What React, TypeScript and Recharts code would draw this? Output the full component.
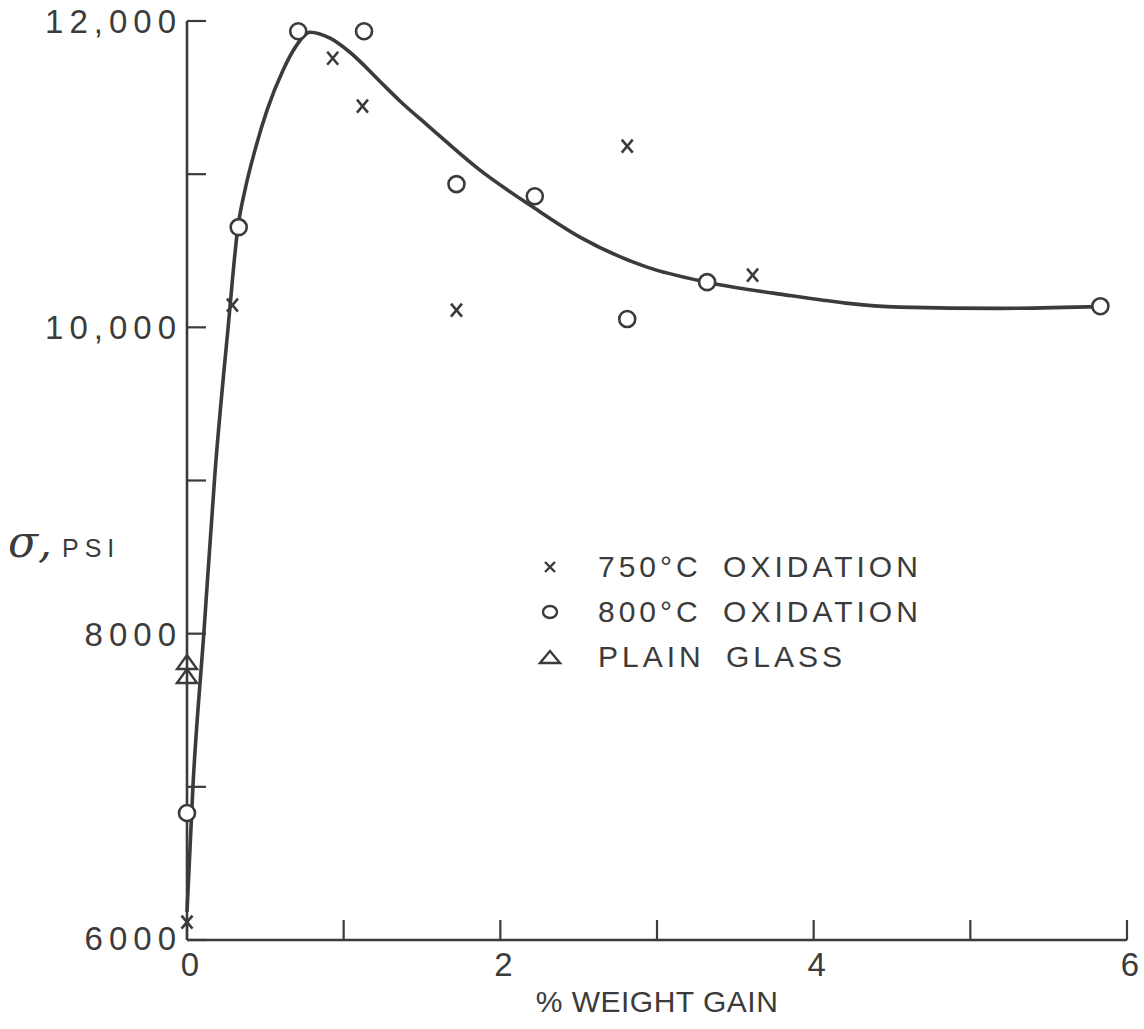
import { ComposedChart, Line, Scatter, XAxis, YAxis, Legend } from "recharts";

// fitted curve
const curveX = [0, 0.038, 0.108, 0.179, 0.262, 0.325, 0.37, 0.434, 0.511, 0.613, 0.696, 0.785, 0.913, 1.04, 1.232, 1.359, 1.532, 1.87, 2.208, 2.508, 2.936, 3.319, 3.784, 4.55, 5.19, 5.83];
const curveY = [6183, 7005, 8010, 9055, 9995, 10654, 10896, 11157, 11418, 11679, 11836, 11927, 11888, 11796, 11605, 11478, 11322, 11026, 10785, 10589, 10393, 10295, 10217, 10132, 10124, 10135];

// 750 C oxidation (x marks)
const ox750X = [0, 0.29, 0.93, 1.12, 1.72, 2.81, 3.61];
const ox750Y = [6117, 10145, 11757, 11444, 10112, 11183, 10341];

// 800 C oxidation (circles)
const ox800X = [0, 0.33, 0.71, 1.13, 1.72, 2.22, 2.81, 3.32, 5.83];
const ox800Y = [6829, 10654, 11933, 11933, 10935, 10856, 10054, 10295, 10138];

// plain glass (triangles)
const glassX = [0, 0];
const glassY = [7808, 7717];

const xTicks = [0, 1, 2, 3, 4, 5, 6];
const xTickLabels: Record<number, string> = { 0: "0", 2: "2", 4: "4", 6: "6" };
const yTicks = [6000, 7000, 8000, 9000, 10000, 11000, 12000];
const yTickLabels: Record<number, string> = { 6000: "6000", 8000: "8000", 10000: "10,000", 12000: "12,000" };

const zip = (xs: number[], ys: number[]) => xs.map((x, i) => ({ x, y: ys[i] }));

const curve = zip(curveX, curveY);
const ox750 = zip(ox750X, ox750Y);
const ox800 = zip(ox800X, ox800Y);
const glass = zip(glassX, glassY);

const INK = "#3b3b3b";
const FONT = "'Liberation Sans', Arial, sans-serif";

const Cross = ({ cx, cy }: any) => (
  <g stroke={INK} strokeWidth={2.6}>
    <line x1={cx - 5.5} y1={cy - 6.5} x2={cx + 5.5} y2={cy + 6.5} />
    <line x1={cx + 5.5} y1={cy - 6.5} x2={cx - 5.5} y2={cy + 6.5} />
  </g>
);

const Ring = ({ cx, cy }: any) => (
  <circle cx={cx} cy={cy} r={8} fill="#fff" stroke={INK} strokeWidth={2.6} />
);

const Tri = ({ cx, cy }: any) => (
  <path d={`M${cx - 10},${cy + 6} L${cx},${cy - 8} L${cx + 10},${cy + 6} Z`} fill="none" stroke={INK} strokeWidth={2.4} />
);

const XTick = ({ x, y, payload }: any) => (
  <g>
    <line x1={x} y1={y} x2={x} y2={y - 20} stroke={INK} strokeWidth={2.2} />
    {xTickLabels[payload.value] && (
      <text x={x + 3} y={y + 36} textAnchor="middle" fontSize={33} fontFamily={FONT} fill={INK}>
        {xTickLabels[payload.value]}
      </text>
    )}
  </g>
);

const YTick = ({ x, y, payload }: any) => (
  <g>
    <line x1={x} y1={y} x2={x + 19} y2={y} stroke={INK} strokeWidth={2.2} />
    {yTickLabels[payload.value] && (
      <text x={x - 5} y={payload.value === 6000 ? y - 2 : y} dy="0.36em" textAnchor="end" fontSize={33} fontFamily={FONT} fill={INK} style={{ letterSpacing: 6 }}>
        {yTickLabels[payload.value]}
      </text>
    )}
  </g>
);

const legendRows = [
  { name: "750°C OXIDATION", mark: "x" },
  { name: "800°C OXIDATION", mark: "o" },
  { name: "PLAIN GLASS", mark: "t" },
];

const LegendBox = () => (
  <svg width={440} height={140}>
    {legendRows.map((r, i) => {
      const cy = 23 + i * 45;
      return (
        <g key={r.name}>
          {r.mark === "x" && (
            <g stroke={INK} strokeWidth={2.4}>
              <line x1={9} y1={cy - 4} x2={19} y2={cy + 6} />
              <line x1={19} y1={cy - 4} x2={9} y2={cy + 6} />
            </g>
          )}
          {r.mark === "o" && <ellipse cx={14} cy={cy + 1} rx={7} ry={6} fill="none" stroke={INK} strokeWidth={2.4} />}
          {r.mark === "t" && (
            <path d={`M4,${cy + 7} L14,${cy - 5} L24,${cy + 7} Z`} fill="none" stroke={INK} strokeWidth={2.4} />
          )}
          <text x={62} y={cy + 11} fontSize={30} fontFamily={FONT} fill={INK} style={{ letterSpacing: 4, wordSpacing: 9 }}>
            {r.name}
          </text>
        </g>
      );
    })}
  </svg>
);

const YLabel = () => (
  <g fill={INK} fontFamily={FONT}>
    <text x={8} y={557} fontSize={44} fontStyle="italic" fontFamily="'DejaVu Serif', serif">σ,</text>
    <text x={62} y={557} fontSize={25} style={{ letterSpacing: 6 }}>PSI</text>
  </g>
);

const XLabel = () => (
  <text x={657} y={1012} textAnchor="middle" fontSize={30} fontFamily={FONT} fill={INK} style={{ letterSpacing: 0.5 }}>
    % WEIGHT GAIN
  </text>
);

export default function App() {
  return (
    <div style={{ position: "absolute", left: 0, top: 0, background: "#fff" }}>
      <ComposedChart width={1144} height={1029} margin={{ top: 21, right: 17, bottom: 59, left: 127 }}>
        <XAxis
          type="number"
          dataKey="x"
          domain={[0, 6]}
          ticks={xTicks}
          height={30}
          tickSize={0}
          tickMargin={0}
          tick={<XTick />}
          axisLine={{ stroke: INK, strokeWidth: 2.6 }}
          label={{ content: () => <XLabel /> }}
        />
        <YAxis
          type="number"
          dataKey="y"
          domain={[6000, 12000]}
          ticks={yTicks}
          width={60}
          tickSize={0}
          tickMargin={0}
          tick={<YTick />}
          axisLine={{ stroke: INK, strokeWidth: 2.6 }}
          label={{ content: () => <YLabel /> }}
        />
        <Line
          data={curve}
          dataKey="y"
          type="monotone"
          stroke={INK}
          strokeWidth={3.6}
          dot={false}
          activeDot={false}
          isAnimationActive={false}
        />
        <Scatter data={ox750} dataKey="y" shape={<Cross />} isAnimationActive={false} />
        <Scatter data={ox800} dataKey="y" shape={<Ring />} isAnimationActive={false} />
        <Scatter data={glass} dataKey="y" shape={<Tri />} isAnimationActive={false} />
        <Legend
          layout="horizontal"
          verticalAlign="middle"
          content={() => <LegendBox />}
          wrapperStyle={{ position: "absolute", left: 536, top: 543, width: 440 }}
        />
      </ComposedChart>
    </div>
  );
}
